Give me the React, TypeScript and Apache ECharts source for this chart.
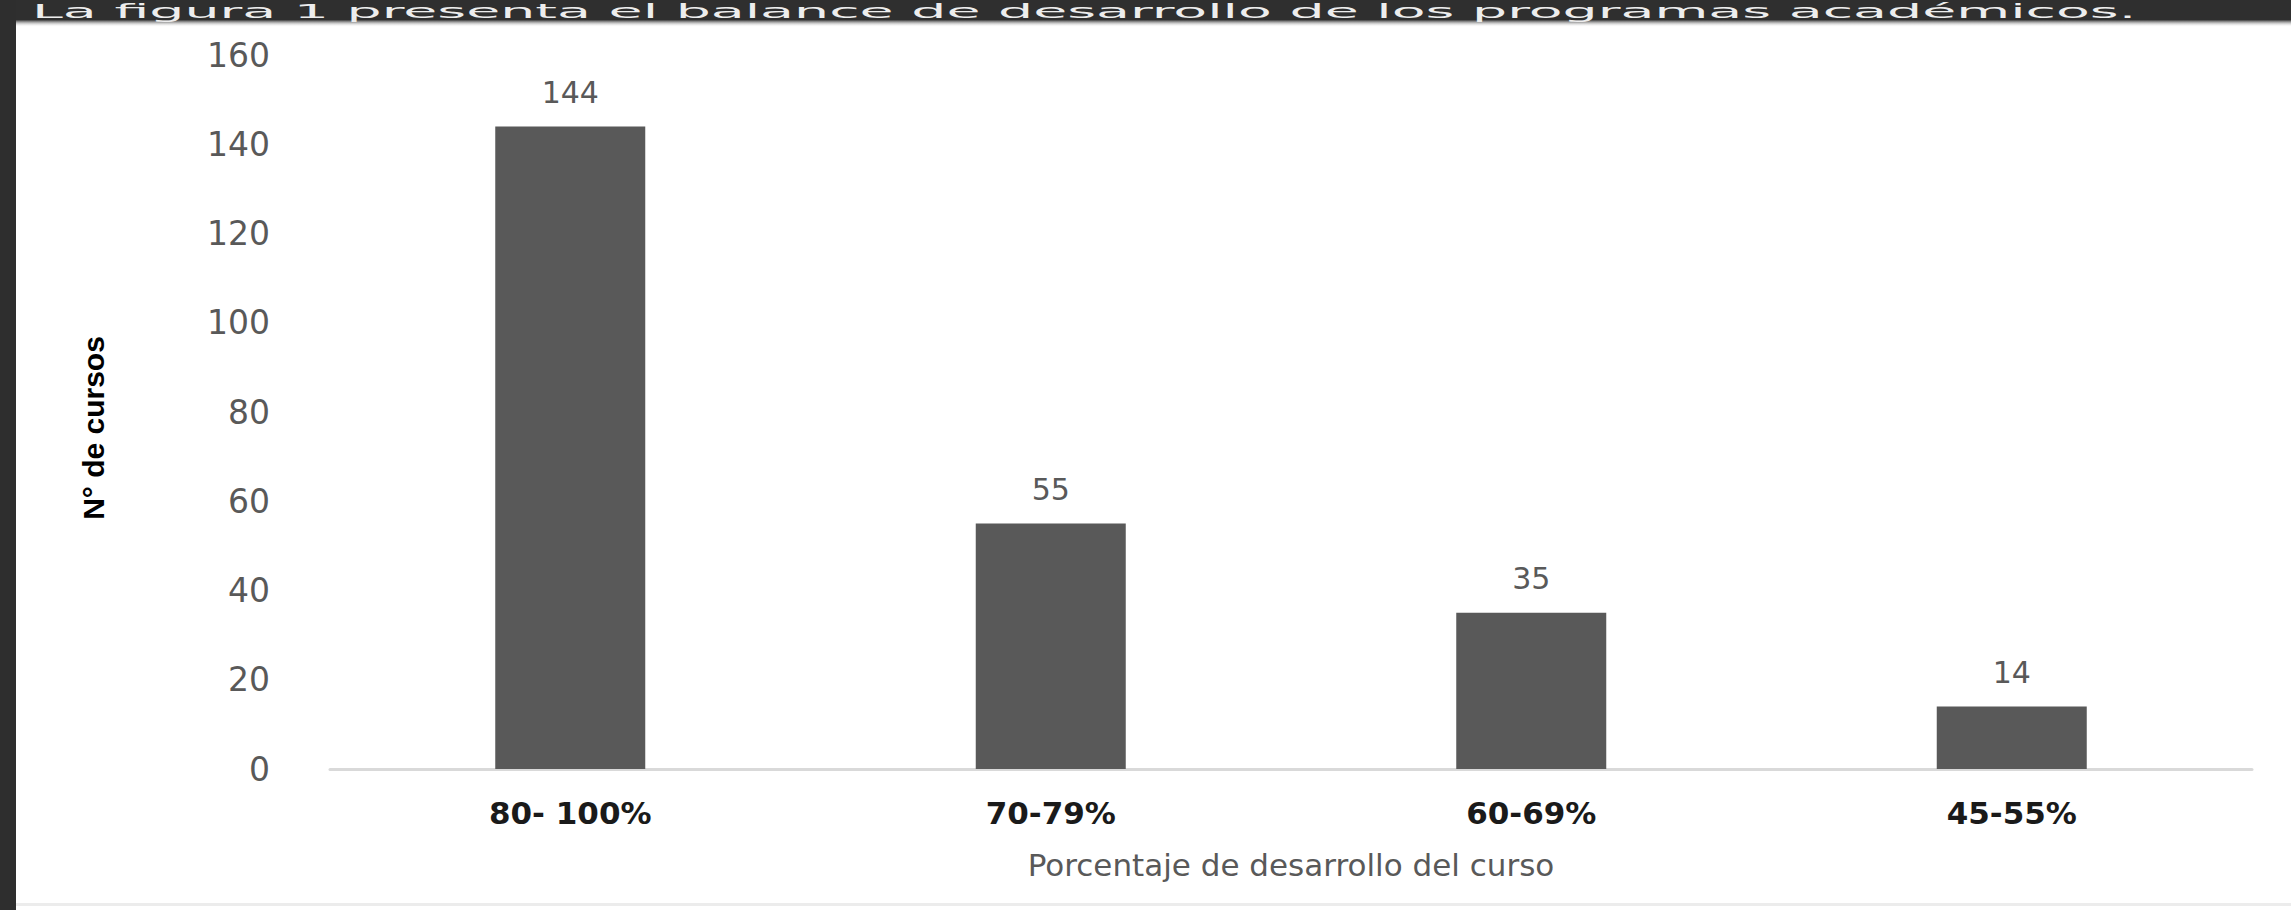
import React, { useEffect, useRef } from "react";
import * as echarts from "echarts";

const categories = ["80- 100%", "70-79%", "60-69%", "45-55%"];
const values = [144, 55, 35, 14];
const yMin = 0;
const yMax = 160;
const yInterval = 20;
const xTitle = "Porcentaje de desarrollo del curso";
const yTitle = "N° de cursos";
const bandText = "La figura 1 presenta el balance de desarrollo de los programas académicos.";

const W = 2291;
const H = 910;

function measure(text: string, font: string): number {
  const c = document.createElement("canvas").getContext("2d");
  if (!c) return text.length * 10;
  c.font = font;
  return c.measureText(text).width;
}

export default function App() {
  const ref = useRef<HTMLDivElement>(null);

  useEffect(() => {
    if (!ref.current) return;
    const chart = echarts.init(ref.current, null, { renderer: "svg" });
    const bandFont = '19px "DejaVu Sans"';
    const bandW = measure(bandText, bandFont);
    const bandScale = 2105 / bandW;

    chart.setOption({
      animation: false,
      backgroundColor: "#ffffff",
      grid: { left: 330, right: 39, top: 55, bottom: 141, containLabel: false },
      xAxis: {
        type: "category",
        data: categories,
        axisLine: { show: true, lineStyle: { color: "#d9d9d9", width: 3 } },
        axisTick: { show: false },
        axisLabel: {
          margin: 28,
          fontFamily: '"DejaVu Sans", sans-serif',
          fontWeight: "bold",
          fontSize: 31,
          color: "#1a1a1a",
        },
        name: xTitle,
        nameLocation: "middle",
        nameGap: 80,
        nameTextStyle: {
          fontFamily: '"DejaVu Sans", sans-serif',
          fontSize: 31,
          color: "#595959",
        },
      },
      yAxis: {
        type: "value",
        min: yMin,
        max: yMax,
        interval: yInterval,
        splitLine: { show: false },
        axisLine: { show: false },
        axisTick: { show: false },
        axisLabel: {
          margin: 60,
          fontFamily: '"DejaVu Sans", sans-serif',
          fontSize: 33,
          color: "#595959",
        },
        name: yTitle,
        nameLocation: "middle",
        nameRotate: 90,
        nameGap: 222,
        nameTextStyle: {
          fontFamily: '"Liberation Sans Narrow", "Liberation Sans", sans-serif',
          fontWeight: "bold",
          fontSize: 30,
          color: "#000000",
          padding: [0, 32, 0, 0],
        },
      },
      series: [
        {
          type: "bar",
          data: values,
          barWidth: 150,
          itemStyle: { color: "#595959" },
          label: {
            show: true,
            position: "top",
            distance: 19,
            fontFamily: '"DejaVu Sans", sans-serif',
            fontSize: 30,
            color: "#595959",
          },
        },
      ],
      graphic: [
        {
          type: "rect",
          shape: { x: 0, y: 0, width: W, height: 20 },
          style: { fill: "#2f2f2f" },
          z: 100,
        },
        {
          type: "rect",
          shape: { x: 0, y: 20, width: W, height: 7 },
          style: {
            fill: {
              type: "linear",
              x: 0,
              y: 0,
              x2: 0,
              y2: 1,
              colorStops: [
                { offset: 0, color: "#3a3a3a" },
                { offset: 1, color: "rgba(255,255,255,0)" },
              ],
            },
          },
          z: 100,
        },
        {
          type: "text",
          x: 32,
          y: 21,
          scaleX: bandScale,
          style: {
            text: bandText,
            x: 0,
            y: 0,
            font: bandFont,
            fill: "#ededed",
            textAlign: "left",
            textVerticalAlign: "bottom",
            align: "left",
            verticalAlign: "bottom",
          },
          z: 101,
        },
        {
          type: "rect",
          shape: { x: 0, y: 0, width: 16, height: H },
          style: { fill: "#2e2e2e" },
          z: 102,
        },
        {
          type: "rect",
          shape: { x: 16, y: 903, width: W - 16, height: 3 },
          style: { fill: "#ececec" },
          z: 50,
        },
      ],
    });

    return () => chart.dispose();
  }, []);

  return (
    <div
      ref={ref}
      style={{ position: "fixed", left: 0, top: 0, width: W, height: H, background: "#ffffff" }}
    />
  );
}
